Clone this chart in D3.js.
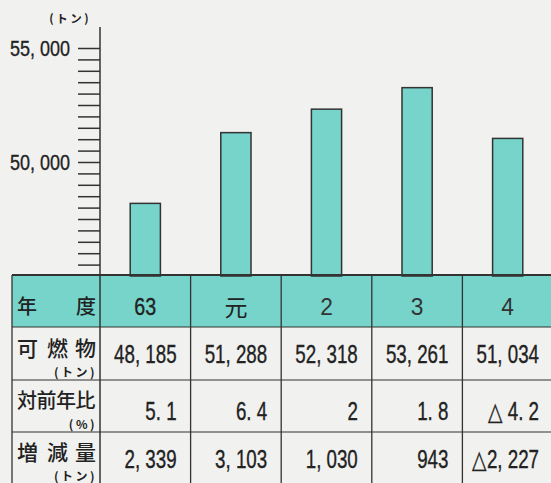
<!DOCTYPE html>
<html><head><meta charset="utf-8">
<script src="https://cdn.jsdelivr.net/npm/d3@7"></script>
<style>
html,body{margin:0;padding:0;background:#f1f1ef;}
svg{display:block;}
.num{font-family:"Liberation Sans","Arial",sans-serif;fill:#222;stroke:#222;stroke-width:0.35;}
.thin{stroke:none;fill:#333;}
.jp{font-family:"Noto Sans CJK JP",sans-serif;fill:#222;}
</style></head>
<body>
<svg id="c" width="551" height="483"></svg>
<script>
// ---- data ----
const years = ["63", "元", "2", "3", "4"];
const combustible = [48185, 51288, 52318, 53261, 51034];   // 可燃物 (トン)
const yoyRatio = [5.1, 6.4, 2, 1.8, -4.2];                   // 対前年比 (%)
const change = [2339, 3103, 1030, 943, -2227];               // 増減量 (トン)
const yTicks = [45500,46000,46500,47000,47500,48000,48500,49000,49500,50000,50500,51000,51500,52000,52500,53000,53500,54000,54500,55000];
const yLabels = [50000, 55000];
const rowLabels = [["可","燃","物"], ["対","前","年","比"], ["増","減","量"]];
const rowUnits = ["(トン)", "(%)", "(トン)"];

const teal = "#76d4cb", ink = "#333";
const svg = d3.select("#c");

const x = d3.scaleBand().domain(years).range([100, 553]).padding(0);
const y = d3.scaleLinear().domain([45000, 55000]).range([276, 48]);

const fmtNum = v => (v < 0 ? "△" : "") + d3.format(",")(Math.abs(v)).replace(",", ", ");
const fmtPct = v => v < 0 ? "△ " + d3.format(".1f")(Math.abs(v)).replace(".", ". ") : String(v).replace(".", ". ");

// condensed number text helper
function ntext(px, py, txt, size, anchor, sx) {
  return svg.append("text").attr("class", "num")
    .attr("transform", `translate(${px},${py}) scale(${sx || 0.8},1)`)
    .attr("text-anchor", anchor).attr("font-size", size).text(txt);
}

// header fill
svg.append("rect").attr("x", 12).attr("y", 275).attr("width", 551 - 12).attr("height", 52).attr("fill", teal);

// bars
const bw = x.bandwidth() / 3;
svg.selectAll("rect.bar").data(years).join("rect").attr("class", "bar")
  .attr("x", d => x(d) + x.bandwidth() / 2 - bw / 2)
  .attr("width", bw)
  .attr("y", (d, i) => y(combustible[i]))
  .attr("height", (d, i) => y(45000) - y(combustible[i]))
  .attr("fill", teal).attr("stroke", ink).attr("stroke-width", 1.5);

// y axis
const axis = d3.axisLeft(y).tickValues(yTicks).tickSize(22).tickFormat("");
const ga = svg.append("g").attr("transform", "translate(100,0)").call(axis);
ga.select(".domain").remove();
ga.selectAll(".tick line").attr("stroke", ink).attr("stroke-width", 1.5);
yLabels.forEach(v => ntext(70, y(v) + 8, fmtNum(v), 22.5, "end", 0.8));
svg.append("line").attr("x1", 100).attr("x2", 100).attr("y1", 27).attr("y2", 483).attr("stroke", ink).attr("stroke-width", 1.5);
svg.append("text").attr("class", "jp").attr("x", 91).attr("y", 23).attr("text-anchor", "end")
  .attr("font-size", 11.5).attr("font-weight", 700).attr("letter-spacing", 2.5).text("(トン)");

// table grid
const hLines = [275, 327, 380, 432];
svg.selectAll("line.h").data(hLines).join("line").attr("class", "h")
  .attr("x1", 12).attr("x2", 551).attr("y1", d => d).attr("y2", d => d)
  .attr("stroke", ink).attr("stroke-width", (d, i) => i === 0 ? 1.8 : 1.2);
const vLines = [12].concat(years.slice(1).map(d => x(d)));
svg.selectAll("line.v").data(vLines).join("line").attr("class", "v")
  .attr("x1", d => d).attr("x2", d => d).attr("y1", 275).attr("y2", 483)
  .attr("stroke", ink).attr("stroke-width", 1.3);

// header row
svg.append("text").attr("class", "jp").attr("x", 17).attr("y", 314).attr("font-size", 20).attr("font-weight", 500).text("年");
svg.append("text").attr("class", "jp").attr("x", 76).attr("y", 314).attr("font-size", 20).attr("font-weight", 500).text("度");
years.forEach((d, i) => {
  const cx = x(d) + x.bandwidth() / 2;
  if (d === "元") {
    svg.append("text").attr("class", "jp").attr("x", cx).attr("y", 316).attr("text-anchor", "middle")
      .attr("font-size", 23).text(d);
  } else {
    const t = ntext(cx, 315, d, 24, "middle", i === 0 ? 0.82 : 0.95);
    if (i > 1) t.classed("thin", true);
  }
});

// row labels
const labelBase = [356, 408, 460];
const unitBase = [377, 429, 481];
rowLabels.forEach((chars, r) => {
  const n = chars.length;
  const xs = n === 3 ? [17, 47, 75] : [17, 36.5, 56, 75.5];
  svg.selectAll(null).data(chars).join("text").attr("class", "jp")
    .attr("x", (d, i) => xs[i]).attr("y", labelBase[r]).attr("font-size", n === 3 ? 21 : 20)
    .attr("font-weight", 500).text(d => d);
  svg.append("text").attr("class", "jp").attr("x", 97).attr("y", unitBase[r]).attr("text-anchor", "end")
    .attr("font-size", 12).attr("font-weight", 700).attr("letter-spacing", 2.5).text(rowUnits[r]);
});

// data cells
const rows = [combustible.map(fmtNum), yoyRatio.map(fmtPct), change.map(fmtNum)];
const numBase = [363, 420, 468];
rows.forEach((vals, r) => {
  years.forEach((d, i) => ntext(x(d) + x.bandwidth() - 14, numBase[r], vals[i], 25, "end", 0.75));
});
</script>
</body></html>
